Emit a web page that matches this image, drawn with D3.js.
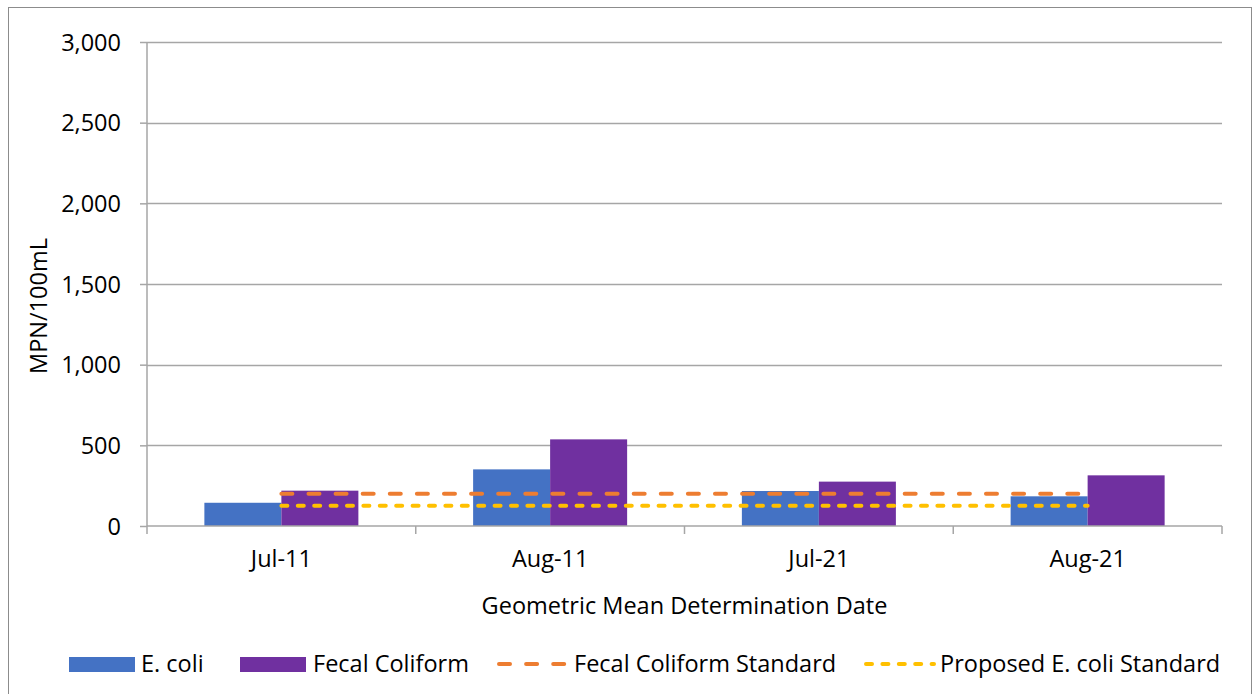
<!DOCTYPE html>
<html><head><meta charset="utf-8">
<script src="https://cdn.jsdelivr.net/npm/d3@7"></script>
<style>body{margin:0;background:#fff}svg{display:block}text{font-family:"Open Sans",sans-serif;fill:#000}</style>
</head><body><svg id="c" width="1253" height="694"></svg>
<script>
const categories = ["Jul-11","Aug-11","Jul-21","Aug-21"];
const seriesNames = ["E. coli","Fecal Coliform"];
const ecoli = [144, 351, 217, 184];
const fecal = [219, 537, 275, 314];
const fecalStandard = [200, 200, 200, 200];
const ecoliStandard = [126, 126, 126, 126];
const yTicks = [0, 500, 1000, 1500, 2000, 2500, 3000];
const xTitle = "Geometric Mean Determination Date";
const yTitle = "MPN/100mL";

const FS = 23.5;
const colors = {"E. coli":"#4472C4","Fecal Coliform":"#7030A0"};
const svg = d3.select("#c");
const L=147, R=1222, T=42, B=526;

// chart border
svg.append("rect").attr("x",8.5).attr("y",7.5).attr("width",1243).attr("height",700)
  .attr("fill","none").attr("stroke","#8c8c8c").attr("stroke-width",1);

const y = d3.scaleLinear().domain([0,3000]).range([B,T]);
const x0 = d3.scaleBand().domain(categories).range([L,R]).padding(0);
const x1 = d3.scaleBand().domain(seriesNames).range([0,x0.bandwidth()]).paddingInner(0).paddingOuter(0.745);

// gridlines
svg.append("g").selectAll("line").data(yTicks.filter(d=>d>0)).join("line")
  .attr("x1",L).attr("x2",R).attr("y1",d=>Math.round(y(d))+0.5).attr("y2",d=>Math.round(y(d))+0.5)
  .attr("stroke","#a6a6a6").attr("stroke-width",1.5);

// bars
const rows = categories.map((c,i)=>({cat:c, vals:[{s:"E. coli",v:ecoli[i]},{s:"Fecal Coliform",v:fecal[i]}]}));
svg.append("g").selectAll("g").data(rows).join("g")
  .attr("transform",d=>`translate(${x0(d.cat)},0)`)
  .selectAll("rect").data(d=>d.vals).join("rect")
  .attr("x",d=>x1(d.s)).attr("width",x1.bandwidth())
  .attr("y",d=>y(d.v)).attr("height",d=>y(0)-y(d.v))
  .attr("fill",d=>colors[d.s]);

// standard lines
const cx = c=>x0(c)+x0.bandwidth()/2;
const line = d3.line().x((d,i)=>cx(categories[i])).y(d=>y(d));
svg.append("path").datum(fecalStandard).attr("d",line).attr("fill","none")
  .attr("stroke","#ED7D31").attr("stroke-width",4).attr("stroke-linecap","round").attr("stroke-dasharray","11,16.1");
svg.append("path").datum(ecoliStandard).attr("d",line).attr("fill","none")
  .attr("stroke","#FFC000").attr("stroke-width",4).attr("stroke-linecap","round").attr("stroke-dasharray","6,10.4");

// y axis
const yAxis = svg.append("g").attr("transform",`translate(${L},0)`)
  .call(d3.axisLeft(y).tickValues(yTicks).tickFormat(d3.format(",")).tickSize(7).tickPadding(19));
yAxis.select(".domain").attr("stroke","#a6a6a6").attr("stroke-width",1.5).attr("d",`M0,${T}V${B}`);
yAxis.selectAll(".tick line").attr("stroke","#a6a6a6").attr("stroke-width",1.5);
yAxis.selectAll(".tick text").attr("font-size",FS).attr("font-family","Open Sans").attr("fill","#000").attr("dy","0.35em");

// x axis
const xAxis = svg.append("g").attr("transform",`translate(0,${B})`)
  .call(d3.axisBottom(x0).tickSize(0).tickPadding(24));
xAxis.select(".domain").attr("stroke","#a6a6a6").attr("stroke-width",1.5).attr("d",`M${L},0H${R}`);
xAxis.selectAll(".tick text").attr("font-size",FS).attr("font-family","Open Sans").attr("fill","#000");
const bounds = categories.map(c=>x0(c)).concat([R]);
xAxis.append("g").selectAll("line").data(bounds).join("line")
  .attr("x1",d=>d).attr("x2",d=>d).attr("y1",0).attr("y2",8)
  .attr("stroke","#a6a6a6").attr("stroke-width",1.5);

// axis titles
svg.append("text").attr("x",(L+R)/2).attr("y",614).attr("text-anchor","middle").attr("font-size",FS).text(xTitle);
svg.append("text").attr("transform","translate(47,306) rotate(-90)").attr("text-anchor","middle").attr("font-size",FS).text(yTitle);

// legend
const leg = svg.append("g");
const ly = 664;
const legItems = [
  {type:"rect",color:"#4472C4",label:"E. coli",x:69,w:66,tx:141},
  {type:"rect",color:"#7030A0",label:"Fecal Coliform",x:240,w:66,tx:313},
  {type:"line",color:"#ED7D31",dash:"11,16.1",label:"Fecal Coliform Standard",x:499,w:68,tx:574},
  {type:"line",color:"#FFC000",dash:"6,10.4",label:"Proposed E. coli Standard",x:866,w:68,tx:940}
];
legItems.forEach(it=>{
  if(it.type==="rect"){
    leg.append("rect").attr("x",it.x).attr("y",ly-7).attr("width",it.w).attr("height",15).attr("fill",it.color);
  } else {
    leg.append("line").attr("x1",it.x).attr("x2",it.x+it.w).attr("y1",ly).attr("y2",ly)
      .attr("stroke",it.color).attr("stroke-width",4).attr("stroke-linecap","round").attr("stroke-dasharray",it.dash);
  }
  leg.append("text").attr("x",it.tx).attr("y",ly).attr("dy","0.35em").attr("font-size",FS).text(it.label);
});
</script></body></html>
